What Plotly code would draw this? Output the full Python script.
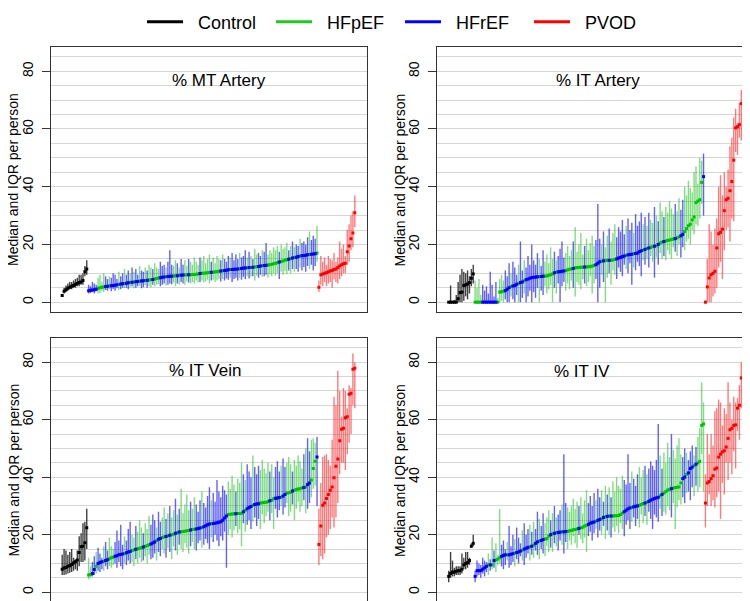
import plotly.graph_objects as go

# ---------------- data ----------------
groups = ["Control", "HFpEF", "HFrEF", "PVOD"]
panel_titles = ["% MT Artery", "% IT Artery", "% IT Vein", "% IT IV"]
y_ticks = [0, 20, 40, 60, 80]
y_title = "Median and IQR per person"

# Panel 1: % MT Artery
p1_ctrl_med = [2.3, 3.8, 4.3, 4.8, 5.2, 5.5, 5.8, 6.2, 6.5, 6.8, 7.0, 7.5, 10.5, 11.5]
p1_ctrl_lo = [2.0, 3.0, 3.5, 4.0, 4.5, 4.5, 5.0, 5.0, 5.5, 5.5, 6.0, 6.0, 9.0, 9.5]
p1_ctrl_hi = [2.8, 5.0, 5.8, 6.5, 7.0, 7.0, 7.5, 8.0, 8.5, 9.5, 9.5, 10.0, 12.5, 14.5]
p1_hf_grp = ("bbbbb" "gggg" "bbgbbbbgb" "bgbbgbgbbgbbgb" "ggbgggb" "bbgbbbg" "gbgbbggbgg"
             "gggbgggggbggggbg" "bbbgbbbbgbbb" "gbgbggbbgbbggg" "gggbggggbgbg" "bbgbbbbgbbbg")
p1_hf_med = [4.0, 4.1, 4.2, 4.3, 4.5, 4.8, 5.0, 5.2, 5.3, 5.4,
             5.5, 5.6, 5.7, 5.8, 5.9, 6.0, 6.1, 6.3, 6.4, 6.5,
             6.6, 6.7, 6.8, 6.9, 7.0, 7.1, 7.2, 7.3, 7.3, 7.4,
             7.5, 7.6, 7.7, 7.8, 7.9, 8.0, 8.2, 8.4, 8.5, 8.6,
             8.7, 8.8, 8.9, 9.0, 9.0, 9.1, 9.2, 9.2, 9.3, 9.3,
             9.4, 9.4, 9.5, 9.5, 9.5, 9.6, 9.6, 9.7, 9.8, 9.9,
             10.0, 10.0, 10.1, 10.2, 10.3, 10.4, 10.4, 10.5, 10.6, 10.7,
             10.8, 10.9, 11.0, 11.1, 11.2, 11.3, 11.3, 11.4, 11.4, 11.5,
             11.6, 11.7, 11.8, 11.8, 11.9, 12.0, 12.0, 12.1, 12.2, 12.3,
             12.4, 12.5, 12.6, 12.7, 12.8, 12.9, 13.0, 13.1, 13.3, 13.5,
             13.7, 13.9, 14.1, 14.3, 14.5, 14.7, 14.9, 15.1, 15.3, 15.5,
             15.6, 15.8, 16.0, 16.1, 16.2, 16.3, 16.4, 16.5, 16.6, 16.7, 16.8, 17.0]
p1_hf_lo = [3.0, 3.2, 3.5, 3.0, 3.8, 3.0, 3.2, 4.0, 3.5, 4.2,
            4.0, 4.5, 3.8, 4.6, 4.0, 4.8, 4.2, 4.5, 5.0, 4.8,
            5.0, 4.5, 5.2, 5.5, 4.8, 5.0, 5.5, 5.6, 4.8, 5.2,
            5.8, 5.0, 5.5, 5.2, 6.0, 5.5, 6.0, 6.2, 5.5, 6.0,
            6.5, 5.8, 6.0, 6.5, 6.2, 6.8, 5.5, 6.5, 6.0, 7.0,
            6.5, 6.0, 7.2, 6.8, 6.5, 7.0, 6.5, 7.5, 6.8, 7.0,
            7.5, 6.8, 7.2, 7.8, 6.5, 7.5, 7.8, 7.0, 7.5, 8.0,
            7.2, 8.0, 7.5, 8.2, 7.8, 8.5, 7.0, 8.0, 8.5, 7.5,
            8.5, 7.8, 8.8, 8.0, 9.0, 8.2, 8.8, 9.0, 7.5, 9.2,
            8.5, 9.5, 8.8, 9.0, 9.5, 8.5, 9.8, 9.0, 10.0, 9.2,
            10.0, 8.0, 10.5, 9.5, 10.8, 9.8, 11.0, 10.0, 11.5, 10.5,
            11.5, 10.5, 12.0, 11.0, 12.2, 10.5, 12.5, 11.5, 13.0, 11.0, 12.5, 14.0]
p1_hf_hi = [6.0, 5.5, 7.0, 6.5, 6.0, 8.5, 9.5, 7.0, 10.0, 9.0,
            8.0, 9.0, 8.5, 10.0, 9.5, 8.0, 10.5, 9.0, 10.0, 11.5,
            9.5, 11.0, 10.0, 12.0, 10.5, 11.5, 9.5, 12.5, 11.0, 10.5,
            12.0, 11.0, 13.0, 12.0, 11.5, 13.5, 12.0, 11.5, 14.0, 12.5,
            13.0, 12.0, 14.0, 18.0, 13.0, 12.5, 14.5, 13.5, 12.0, 15.0,
            13.0, 14.5, 12.5, 15.0, 14.0, 13.0, 15.5, 14.0, 13.0, 15.5,
            14.5, 16.0, 13.5, 15.0, 16.5, 14.0, 15.5, 13.5, 16.0, 15.0,
            14.5, 16.5, 15.0, 14.0, 16.0, 15.5, 17.0, 14.5, 16.5, 15.0,
            17.0, 15.5, 16.0, 18.0, 15.5, 17.5, 16.0, 15.0, 18.5, 16.5,
            17.0, 16.0, 18.0, 17.5, 20.5, 16.5, 18.0, 17.0, 19.0, 18.0,
            19.5, 17.5, 20.0, 18.5, 19.0, 20.5, 18.0, 19.5, 21.0, 19.0,
            20.0, 19.5, 22.0, 20.5, 21.0, 20.0, 22.5, 24.5, 21.5, 23.0, 22.0, 26.5]
p1_pvod_med = [5.2, 9.5, 9.8, 10.0, 10.2, 10.5, 10.8, 11.0, 11.3, 11.5, 12.0, 12.5, 13.0, 13.3, 13.5, 17.5, 19.5, 22.0, 24.0, 31.0]
p1_pvod_lo = [3.5, 6.0, 5.5, 7.0, 5.5, 6.5, 7.0, 5.0, 8.0, 7.0, 6.5, 8.0, 9.0, 10.0, 10.0, 13.0, 14.0, 18.0, 19.0, 26.0]
p1_pvod_hi = [7.5, 16.0, 14.0, 15.5, 13.0, 16.0, 15.0, 14.5, 17.0, 14.0, 15.5, 21.0, 18.5, 20.0, 16.0, 25.0, 27.0, 30.0, 31.5, 37.0]

# Panel 2: % IT Artery
p2_ctrl_med = [0, 0, 0, 0, 0, 1.2, 3.3, 3.5, 5.8, 6.0, 6.3, 6.8, 8.3, 9.8]
p2_ctrl_lo = [0, 0, 0, 0, 0, 0, 0, 0, 0.5, 2.0, 1.0, 3.0, 5.5, 6.5]
p2_ctrl_hi = [0, 5.8, 0, 0.8, 2.5, 7.0, 9.5, 11.5, 10.5, 10.0, 11.0, 9.0, 11.5, 13.0]
p2_hf_grp = ("gggg" "bbbbbbbb" "ggggb" "bbgbbbgbb" "gbbbbbbbgbb" "gggggbg" "bbbbg"
             "gggbgggggbgggggb" "bbgbggb" "gggbbbbbg" "bbbgbbbbgb" "gbggbgbggbg" "ggggbggb" "bggggggggggb")
p2_hf_med = [0, 0, 0, 0, 0, 0, 0, 0, 0, 0,
             0, 0, 0, 3.5, 3.6, 3.8, 4.0, 4.5, 5.0, 5.4,
             5.6, 5.8, 6.2, 6.5, 6.8, 7.0, 7.4, 7.8, 8.0, 8.3,
             8.5, 8.6, 8.7, 8.8, 8.8, 8.9, 9.0, 9.0, 9.1, 9.3,
             9.5, 9.8, 10.2, 10.4, 10.5, 10.6, 10.7, 10.8, 11.0, 11.2,
             11.4, 11.5, 11.7, 11.9, 12.0, 12.0, 12.1, 12.1, 12.2, 12.2,
             12.3, 12.3, 12.5, 12.7, 13.0, 13.5, 14.0, 14.2, 14.3, 14.4,
             14.5, 14.5, 14.5, 14.6, 14.8, 15.0, 15.3, 15.5, 15.8, 16.0,
             16.2, 16.4, 16.5, 16.6, 16.8, 16.9, 17.0, 17.5, 17.8, 18.0,
             18.3, 18.6, 18.8, 19.0, 19.2, 19.4, 19.5, 20.0, 20.5, 20.8,
             21.0, 21.2, 21.4, 21.5, 21.7, 21.9, 22.0, 22.3, 22.6, 23.0,
             23.5, 24.5, 25.5, 26.5, 27.0, 28.5, 29.5, 34.5, 35.0, 35.5, 41.5, 43.5]
p2_hf_lo = [0, 0, 0, 0, 0, 0, 0, 0, 0, 0,
            0, 0, 0, 0, 0.5, 0, 1.0, 0, 0, 2.0,
            1.0, 0, 2.5, 0, 0, 1.5, 3.0, 0, 2.0, 4.0,
            0, 3.5, 1.5, 5.0, 0, 4.0, 2.5, 5.5, 3.0, 4.5,
            6.0, 0, 5.0, 3.0, 6.5, 0, 5.5, 7.0, 4.0, 6.5,
            4.5, 7.5, 5.0, 2.0, 7.0, 6.0, 4.5, 8.0, 6.5, 5.5,
            7.0, 9.0, 3.0, 6.5, 8.0, 0, 5.0, 9.5, 7.0, 0,
            8.5, 10.0, 6.0, 11.0, 9.5, 8.0, 12.0, 10.5, 9.0, 13.0,
            11.5, 10.0, 13.5, 6.0, 12.0, 11.0, 14.0, 12.5, 9.0, 14.5,
            13.0, 15.0, 12.0, 16.0, 14.0, 8.5, 15.5, 13.0, 17.0, 15.0,
            16.0, 14.5, 18.0, 16.5, 15.0, 19.0, 17.5, 16.0, 20.0, 15.5,
            19.0, 18.0, 21.0, 22.0, 20.0, 25.0, 23.5, 27.0, 26.5, 29.0, 34.0, 30.0]
p2_hf_hi = [7.5, 5.0, 8.0, 2.5, 6.0, 4.0, 5.5, 3.0, 10.5, 6.0,
            2.0, 7.0, 1.5, 8.0, 9.5, 7.5, 11.0, 9.0, 13.5, 10.0,
            14.0, 12.0, 9.5, 13.0, 21.0, 11.0, 14.5, 12.0, 16.0, 13.0,
            20.0, 14.5, 13.0, 17.0, 15.0, 12.5, 18.0, 14.0, 16.5, 13.5,
            19.0, 15.0, 17.5, 14.5, 16.0, 18.5, 21.0, 15.5, 17.0, 19.5,
            16.0, 18.0, 21.0, 26.0, 17.5, 20.0, 24.0, 16.5, 19.5, 22.0,
            18.0, 20.5, 23.0, 19.5, 21.5, 34.0, 22.0, 20.0, 24.5, 19.0,
            23.0, 25.5, 21.0, 24.0, 27.0, 22.5, 26.0, 24.5, 28.5, 23.5,
            26.5, 29.0, 25.0, 27.5, 24.0, 30.5, 26.5, 28.0, 31.0, 27.0,
            29.5, 26.5, 31.0, 28.5, 27.5, 33.0, 30.0, 28.0, 34.5, 31.5,
            29.5, 33.0, 31.0, 35.0, 32.5, 30.5, 34.0, 31.5, 36.0, 32.0,
            35.5, 40.0, 37.0, 42.0, 39.5, 38.0, 45.0, 47.0, 41.0, 50.0, 49.0, 51.5]
p2_pvod_med = [0, 5.3, 8.4, 9.5, 10.0, 10.7, 18.8, 23.7, 24.2, 25.3, 31.7, 35.5, 36.0, 38.6, 41.8, 49.2, 60.4, 60.8, 61.5, 68.8]
p2_pvod_lo = [0, 0, 0, 0, 2.0, 3.0, 5.0, 12.0, 14.0, 8.0, 18.0, 25.0, 26.0, 21.0, 29.0, 28.0, 52.0, 51.0, 57.0, 56.0]
p2_pvod_hi = [0.5, 15.0, 27.0, 24.5, 20.0, 25.5, 29.0, 40.0, 44.0, 37.0, 45.0, 40.0, 46.0, 54.0, 57.0, 64.0, 67.0, 62.0, 69.0, 73.5]

# Panel 3: % IT Vein
p3_ctrl_med = [8.0, 8.4, 8.6, 9.0, 9.2, 9.6, 10.2, 10.6, 11.2, 13.8, 15.8, 16.0, 17.2, 22.4]
p3_ctrl_lo = [6.0, 6.0, 6.2, 6.5, 6.8, 7.0, 7.5, 8.0, 7.5, 9.0, 10.5, 10.5, 11.0, 15.0]
p3_ctrl_hi = [13.0, 15.0, 14.5, 13.0, 14.0, 15.0, 12.0, 11.5, 14.5, 19.5, 20.5, 24.0, 24.5, 29.0]
p3_hf_grp = ("gg" "bb" "gbbbgbb" "gggb" "bbbbgbbb" "ggbgggbgggb" "bbgbb" "ggbgbggbgb" "gggggbgg"
             "bbbgbbbbgb" "bbbbbbb" "ggggbgggbg" "bbbgbbb" "gggggbgg" "bbbgbb" "gggbgggggbg" "bbgggb")
p3_hf_med = [6.0, 6.2, 6.5, 7.9, 9.0, 10.0, 10.3, 10.6, 10.8, 11.0,
             11.3, 11.6, 12.0, 12.2, 12.5, 12.7, 13.0, 13.1, 13.3, 13.5,
             13.7, 14.0, 14.2, 14.5, 14.7, 14.9, 15.1, 15.3, 15.5, 15.7,
             16.0, 16.2, 16.5, 16.8, 17.1, 17.5, 18.0, 18.4, 18.7, 19.0,
             19.2, 19.4, 19.6, 19.8, 20.0, 20.2, 20.5, 20.7, 20.9, 21.0,
             21.1, 21.2, 21.4, 21.5, 21.6, 21.8, 21.9, 22.0, 22.2, 22.3,
             22.5, 22.8, 23.1, 23.5, 23.7, 23.8, 23.9, 24.0, 24.2, 24.3,
             24.5, 25.0, 25.8, 26.5, 27.0, 27.1, 27.2, 27.3, 27.3, 27.4,
             27.4, 27.5, 28.0, 28.5, 29.0, 29.5, 29.8, 30.2, 30.5, 30.7,
             30.8, 31.0, 31.1, 31.2, 31.3, 31.5, 31.8, 32.0, 32.5, 32.7,
             32.8, 32.9, 33.0, 33.5, 34.0, 34.5, 34.6, 34.8, 35.2, 35.5,
             35.7, 35.9, 36.0, 36.2, 36.4, 36.6, 37.5, 38.0, 39.0, 43.0, 45.5, 47.0]
p3_hf_lo = [4.5, 5.0, 5.5, 6.0, 6.5, 7.5, 7.0, 8.0, 7.5, 9.0,
            8.0, 9.0, 8.5, 9.5, 10.0, 8.5, 10.5, 9.0, 8.0, 10.0,
            9.5, 11.0, 10.0, 10.5, 9.0, 11.5, 10.0, 12.0, 10.5, 11.0,
            12.5, 10.0, 13.0, 11.5, 12.0, 13.5, 11.0, 14.0, 12.5, 15.0,
            13.5, 12.0, 15.5, 14.0, 11.5, 16.0, 14.5, 13.0, 16.5, 15.0,
            14.0, 17.0, 15.5, 13.5, 16.0, 17.5, 15.0, 14.5, 17.0, 18.0,
            15.5, 16.5, 18.5, 17.0, 15.0, 19.0, 17.5, 20.0, 18.0, 16.0,
            19.5, 18.0, 21.0, 8.5, 20.0, 22.0, 19.0, 21.5, 23.0, 20.5,
            22.0, 16.0, 24.0, 21.0, 23.5, 25.0, 22.0, 24.5, 26.0, 23.0,
            25.5, 22.0, 27.0, 24.0, 26.5, 28.0, 25.0, 27.5, 22.0, 29.0,
            26.0, 28.5, 30.0, 27.0, 29.5, 31.0, 26.5, 28.0, 30.5, 25.0,
            29.0, 31.5, 28.0, 30.0, 32.0, 27.5, 29.0, 31.0, 33.0, 36.0, 37.0, 30.0]
p3_hf_hi = [12.0, 9.0, 10.5, 12.5, 14.0, 15.5, 13.5, 12.0, 16.0, 17.5,
            14.5, 19.0, 16.0, 15.0, 17.5, 21.5, 18.0, 23.5, 16.5, 19.5,
            18.0, 22.0, 24.5, 20.0, 19.0, 23.0, 21.0, 25.0, 22.5, 20.5,
            24.0, 22.0, 26.5, 23.5, 27.0, 25.0, 22.5, 28.0, 24.5, 26.0,
            29.5, 25.5, 27.5, 30.0, 26.0, 28.5, 32.5, 27.0, 29.0, 36.0,
            27.5, 30.5, 34.0, 28.5, 31.5, 29.0, 33.0, 30.5, 28.0, 32.0,
            35.0, 31.0, 29.5, 33.5, 36.5, 32.0, 34.5, 31.5, 39.0, 35.0,
            33.0, 37.0, 35.5, 34.0, 38.5, 36.0, 40.5, 37.5, 35.0, 39.5,
            38.0, 45.0, 41.0, 39.0, 44.5, 42.0, 40.0, 47.5, 43.5, 41.0,
            44.0, 42.5, 46.0, 43.0, 41.5, 45.0, 42.0, 44.5, 40.0, 43.5,
            45.5, 42.0, 44.0, 46.5, 43.5, 45.0, 47.0, 44.5, 42.0, 46.0,
            44.0, 47.5, 45.5, 43.0, 48.0, 50.0, 53.5, 49.0, 53.0, 53.5, 52.0, 54.0]
p3_pvod_med = [16.6, 23.0, 30.2, 31.0, 32.6, 34.0, 35.5, 36.6, 39.8, 43.8, 46.3, 52.7, 56.7, 57.0, 60.7, 61.0, 68.8, 69.2, 77.5, 77.9]
p3_pvod_lo = [9.5, 12.5, 11.5, 13.5, 19.0, 20.0, 22.0, 26.0, 22.5, 26.0, 31.0, 41.0, 45.0, 45.0, 42.5, 48.0, 52.0, 55.0, 65.0, 64.0]
p3_pvod_hi = [29.0, 38.0, 47.0, 47.5, 48.0, 46.0, 44.0, 53.0, 68.0, 65.0, 77.0, 70.0, 61.0, 71.0, 70.0, 64.0, 72.0, 71.0, 83.0, 80.0]

# Panel 4: % IT IV
p4_ctrl_med = [5.5, 6.5, 7.0, 7.0, 7.3, 7.5, 7.5, 8.0, 9.5, 10.0, 10.3, 11.0, 16.0, 17.0]
p4_ctrl_lo = [3.5, 5.0, 5.5, 5.5, 6.0, 6.0, 6.0, 6.5, 8.0, 8.0, 8.5, 9.5, 15.5, 16.0]
p4_ctrl_hi = [7.5, 14.0, 11.0, 8.5, 9.0, 9.0, 9.0, 13.5, 12.0, 14.0, 14.0, 12.0, 17.0, 20.0]
p4_hf_grp = ("bbbbbb" "bgbgbgg" "gbbbgb" "bbgbbbgbbbg" "bgbbgbb" "gggbgbgbbg" "bbgg" "ggggbgggg"
             "bbbbgbb" "gbgbgb" "ggggggb" "bbbgbbb" "gggbgbb" "bbbbgb" "ggggbgggg" "gbbgbbbgb" "gggg")
p4_hf_med = [5.5, 7.5, 7.5, 7.5, 8.0, 8.5, 9.0, 9.5, 9.5, 9.5,
             11.0, 11.2, 11.5, 12.0, 12.5, 12.8, 13.0, 13.0, 13.0, 13.2,
             13.4, 13.6, 13.8, 14.0, 14.3, 14.6, 15.0, 15.3, 15.6, 15.8,
             16.0, 16.4, 17.0, 17.5, 17.8, 18.0, 18.3, 18.5, 18.6, 19.5,
             20.0, 20.3, 20.5, 20.7, 20.8, 20.9, 21.0, 21.0, 21.1, 21.2,
             21.3, 21.5, 21.7, 21.8, 22.0, 22.2, 22.4, 22.6, 23.0, 23.3,
             23.6, 24.0, 24.2, 24.4, 24.7, 25.0, 25.3, 25.6, 26.0, 26.2,
             26.4, 26.5, 26.5, 26.5, 26.6, 26.6, 26.7, 27.0, 27.5, 28.0,
             28.5, 29.0, 29.3, 29.5, 29.7, 29.9, 30.0, 30.2, 30.5, 30.8,
             31.0, 31.3, 31.6, 32.0, 32.3, 32.6, 32.8, 33.0, 33.5, 34.0,
             34.5, 35.0, 35.5, 35.8, 36.0, 36.2, 36.4, 36.5, 36.6, 38.0,
             39.5, 40.0, 41.0, 41.5, 43.0, 43.5, 44.0, 44.5, 45.0, 45.5, 58.0, 58.5]
p4_hf_lo = [3.5, 5.5, 6.0, 5.0, 6.5, 5.5, 7.0, 6.0, 7.5, 8.0,
            8.5, 7.0, 9.5, 10.0, 9.0, 8.0, 9.5, 11.0, 8.5, 9.5,
            10.5, 9.0, 11.5, 10.0, 12.5, 11.0, 9.5, 12.0, 13.5, 11.0,
            13.0, 12.0, 14.5, 13.0, 11.5, 15.0, 13.5, 12.5, 16.0, 14.0,
            15.5, 14.0, 17.0, 16.0, 14.5, 18.0, 16.5, 13.5, 17.5, 15.0,
            18.0, 16.5, 19.5, 17.0, 15.5, 20.0, 18.5, 17.0, 19.0, 14.0,
            19.5, 21.0, 18.0, 20.5, 22.0, 19.0, 21.5, 20.0, 23.0, 18.5,
            21.5, 20.0, 19.0, 22.5, 21.0, 23.0, 20.5, 24.0, 22.0, 19.5,
            23.5, 25.0, 22.0, 24.5, 26.0, 23.0, 25.5, 22.5, 27.0, 24.0,
            26.5, 23.5, 28.0, 25.5, 22.0, 27.0, 26.0, 24.5, 29.0, 26.5,
            28.0, 27.0, 30.0, 28.5, 26.0, 31.0, 22.0, 29.5, 32.0, 30.5,
            33.0, 31.0, 34.5, 35.0, 32.0, 36.5, 33.5, 37.0, 35.0, 36.5, 48.0, 35.0]
p4_hf_hi = [7.5, 11.0, 10.0, 9.5, 12.0, 11.0, 10.5, 13.5, 11.5, 19.0,
            14.5, 17.0, 13.0, 29.0, 16.5, 18.0, 15.0, 17.5, 23.0, 16.0,
            20.0, 18.5, 22.5, 19.0, 17.0, 21.5, 24.0, 20.0, 22.0, 23.5,
            21.0, 24.5, 22.0, 28.0, 25.5, 23.0, 27.5, 24.0, 26.0, 28.5,
            25.0, 27.5, 30.0, 26.0, 27.0, 28.5, 30.5, 48.0, 31.0, 29.5,
            28.0, 30.0, 32.5, 29.0, 31.5, 30.0, 33.0, 27.5, 32.0, 35.5,
            31.0, 33.5, 30.0, 34.5, 32.0, 36.0, 33.0, 35.5, 31.5, 37.0,
            34.0, 36.5, 33.0, 38.5, 35.0, 40.0, 37.0, 36.0, 40.5, 39.0,
            37.5, 48.0, 38.0, 42.0, 39.5, 37.0, 41.0, 43.5, 40.0, 42.5,
            44.0, 41.0, 43.0, 45.5, 44.0, 42.5, 46.0, 58.5, 47.5, 43.0,
            48.5, 45.0, 52.0, 47.0, 55.0, 49.5, 46.5, 51.0, 53.5, 48.0,
            47.0, 50.0, 48.5, 46.0, 49.0, 51.0, 47.5, 50.5, 54.0, 57.0, 73.0, 66.0]
p4_pvod_med = [31.0, 38.0, 38.5, 39.5, 40.5, 42.8, 43.2, 47.0, 48.0, 48.8, 49.2, 50.5, 53.5, 56.5, 57.0, 58.0, 58.2, 64.0, 65.0, 74.5]
p4_pvod_lo = [22.5, 30.0, 34.0, 30.0, 32.0, 29.5, 33.0, 35.0, 25.5, 38.0, 34.0, 45.0, 39.0, 45.0, 41.0, 49.0, 43.0, 56.0, 53.0, 64.0]
p4_pvod_hi = [41.0, 55.0, 48.0, 55.0, 51.0, 63.0, 64.0, 67.0, 66.0, 58.0, 64.0, 62.0, 73.0, 66.0, 60.0, 68.0, 66.0, 67.5, 72.0, 80.0]

# ---------------- styling ----------------
W, H = 750, 601
FONT = "Liberation Sans, Arial, sans-serif"
pt_colors = {"Control": "#000000", "HFpEF": "#00c400", "HFrEF": "#0000ff", "PVOD": "#ff0000"}
bar_colors = {"Control": "rgba(0,0,0,0.75)", "HFpEF": "rgba(0,190,0,0.5)",
              "HFrEF": "rgba(0,0,255,0.62)", "PVOD": "rgba(255,0,0,0.52)"}
legend_colors = {"Control": "#000000", "HFpEF": "#22c822", "HFrEF": "#0000ff", "PVOD": "#ff0000"}

panels = [
    (p1_ctrl_med, p1_ctrl_lo, p1_ctrl_hi, p1_hf_grp, p1_hf_med, p1_hf_lo, p1_hf_hi, p1_pvod_med, p1_pvod_lo, p1_pvod_hi),
    (p2_ctrl_med, p2_ctrl_lo, p2_ctrl_hi, p2_hf_grp, p2_hf_med, p2_hf_lo, p2_hf_hi, p2_pvod_med, p2_pvod_lo, p2_pvod_hi),
    (p3_ctrl_med, p3_ctrl_lo, p3_ctrl_hi, p3_hf_grp, p3_hf_med, p3_hf_lo, p3_hf_hi, p3_pvod_med, p3_pvod_lo, p3_pvod_hi),
    (p4_ctrl_med, p4_ctrl_lo, p4_ctrl_hi, p4_hf_grp, p4_hf_med, p4_hf_lo, p4_hf_hi, p4_pvod_med, p4_pvod_lo, p4_pvod_hi),
]

# pixel boxes (left, right, top, bottom)
boxes = [(42.5, 358.5, 39, 304), (429, 745, 39, 304), (42.5, 358.5, 330, 594), (429, 745, 330, 594)]
title_pos = [(211, 72), (590, 72), (197, 362), (574, 363)]

fig = go.Figure()
bar_traces, pt_traces = [], []

for k, pdata in enumerate(panels):
    cm, cl, ch, grp, hm, hl, hh, pm, pl, ph = pdata
    ax = "" if k == 0 else str(k + 1)
    sets = {"Control": ([], [], [], []), "HFpEF": ([], [], [], []), "HFrEF": ([], [], [], []), "PVOD": ([], [], [], [])}
    pos = 0
    for m, l, h in zip(cm, cl, ch):
        s = sets["Control"]; s[0].append(pos); s[1].append(m); s[2].append(l); s[3].append(h); pos += 1
    for g, m, l, h in zip(grp, hm, hl, hh):
        s = sets["HFpEF" if g == "g" else "HFrEF"]
        s[0].append(pos); s[1].append(m); s[2].append(l); s[3].append(h); pos += 1
    for m, l, h in zip(pm, pl, ph):
        s = sets["PVOD"]; s[0].append(pos); s[1].append(m); s[2].append(l); s[3].append(h); pos += 1
    for name in ["Control", "HFpEF", "HFrEF", "PVOD"]:
        xs, ms, ls, hs = sets[name]
        bar_traces.append(go.Scatter(
            x=xs, y=ms, mode="markers", xaxis="x" + ax, yaxis="y" + ax, showlegend=False,
            marker=dict(size=1, opacity=0), hoverinfo="skip",
            error_y=dict(type="data", symmetric=False,
                         array=[h - m for m, h in zip(ms, hs)],
                         arrayminus=[m - l for m, l in zip(ms, ls)],
                         width=0, thickness=1.4, color=bar_colors[name])))
        pt_traces.append(go.Scatter(
            x=xs, y=ms, mode="markers", xaxis="x" + ax, yaxis="y" + ax, showlegend=False, name=name,
            marker=dict(symbol="square", size=3, color=pt_colors[name], line=dict(width=0))))

for t in bar_traces + pt_traces:
    fig.add_trace(t)

# legend entries (non-breaking spaces reproduce the gap between key line and label)
for name in groups:
    fig.add_trace(go.Scatter(x=[None], y=[None], mode="lines", name="\u00a0\u00a0" + name,
                             line=dict(color=legend_colors[name], width=3), showlegend=True))

n_total = len(p1_ctrl_med) + len(p1_hf_med) + len(p1_pvod_med)
pad = 0.04 * (n_total - 1)
layout = dict(
    width=W, height=H, margin=dict(l=0, r=0, t=0, b=0, autoexpand=False),
    paper_bgcolor="white", plot_bgcolor="white",
    font=dict(family=FONT, size=14, color="black"),
    showlegend=True,
    legend=dict(orientation="h", x=134 / W, y=1 - 14 / H, xanchor="left", yanchor="middle",
                font=dict(size=18), entrywidth=78, entrywidthmode="pixels",
                bgcolor="rgba(0,0,0,0)", itemwidth=36),
    annotations=[],
)
for k, (l, r, t, b) in enumerate(boxes):
    ax = "" if k == 0 else str(k + 1)
    layout["xaxis" + ax] = dict(domain=[l / W, r / W], anchor="y" + ax,
                                range=[-pad, n_total - 1 + pad], showticklabels=False,
                                showgrid=False, zeroline=False, ticks="",
                                showline=True, mirror=True, linecolor="#333333", linewidth=1)
    layout["yaxis" + ax] = dict(domain=[1 - b / H, 1 - t / H], anchor="x" + ax,
                                range=[-3.4, 88.4], tickvals=y_ticks, ticks="outside", ticklen=8,
                                tickcolor="#333333", tickangle=-90, tickfont=dict(size=14),
                                ticklabelstandoff=3,
                                showgrid=True, gridcolor="#d6d6d6", gridwidth=1,
                                minor=dict(dtick=5, tick0=0, showgrid=True, gridcolor="#d6d6d6", gridwidth=1, ticks=""),
                                zeroline=False, showline=True, mirror=True, linecolor="#333333", linewidth=1,
                                automargin=False)
    tx, ty = title_pos[k]
    layout["annotations"].append(dict(text=panel_titles[k], xref="paper", yref="paper",
                                      x=tx / W, y=1 - ty / H, xanchor="center", yanchor="middle",
                                      showarrow=False, font=dict(size=17, color="black")))
    # y-axis title, rotated, placed left of the tick labels
    layout["annotations"].append(dict(text=y_title, xref="paper", yref="paper",
                                      x=(l - 37) / W, y=1 - (t + b) / 2 / H,
                                      xanchor="center", yanchor="middle", textangle=-90,
                                      showarrow=False, font=dict(size=14, color="black")))

fig.update_layout(**layout)
fig.write_html("out.html")
